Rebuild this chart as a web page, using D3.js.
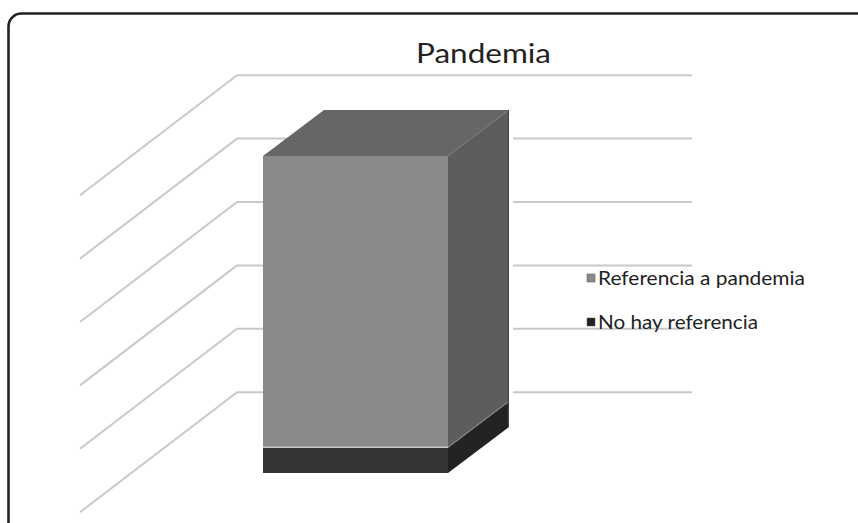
<!DOCTYPE html>
<html><head><meta charset="utf-8">
<script src="https://cdn.jsdelivr.net/npm/d3@7"></script>
<style>html,body{margin:0;padding:0;background:#fff;}svg{display:block;}</style>
</head><body>
<svg id="c" width="858" height="523"></svg>
<script>
// ---- data ----
const categories = ["Pandemia"];
const seriesNames = ["Referencia a pandemia", "No hay referencia"];
const referenciaValues = [46];
const noHayValues = [4];
const gridTicks = [10, 20, 30, 40, 50, 60];
const axisMax = 60;

(function () {
const svg = d3.select("#c");

// frame
svg.append("rect").attr("x", 8.5).attr("y", 13.5).attr("width", 880).attr("height", 530)
  .attr("rx", 13).attr("fill", "#fff").attr("stroke", "#222").attr("stroke-width", 2.6);

// title
svg.append("text").attr("x", 416).attr("y", 63)
  .attr("font-family", "Lato, 'Open Sans', sans-serif").attr("font-size", 27)
  .attr("textLength", 135).attr("lengthAdjust", "spacingAndGlyphs")
  .attr("fill", "#222").text(categories[0]);

// scales
const yWall = d3.scaleLinear().domain([0, axisMax]).range([455.6, 75.2]);
const yBar = d3.scaleLinear().domain([0, axisMax]).range([473, 473 - 6 * 63.4]);
const x = d3.scaleBand().domain(categories).range([263, 448]).padding(0);
const depth = {dx: 61, dy: -46};
const wallX0 = 237, wallX1 = 692, sideDx = -157, sideDy = 120;

const grid = svg.append("g").attr("stroke", "#c9c9c9").attr("stroke-width", 2).attr("fill", "none");
gridTicks.forEach(t => {
  const yy = yWall(t);
  grid.append("line").attr("x1", wallX0).attr("x2", wallX1).attr("y1", yy).attr("y2", yy);
  grid.append("line").attr("x1", wallX0).attr("y1", yy).attr("x2", wallX0 + sideDx).attr("y2", yy + sideDy);
});

// stacked 3D bar
const table = categories.map((c, i) => ({cat: c, ref: referenciaValues[i], nohay: noHayValues[i]}));
const stack = d3.stack().keys(["nohay", "ref"])(table);
const colors = {
  nohay: {front: "#343434", side: "#232323", top: "#2a2a2a", legend: "#222"},
  ref: {front: "#8a8a8a", side: "#5d5d5d", top: "#666666", legend: "#8a8a8a"}
};
const pts = a => a.map(p => p.join(",")).join(" ");
const bars = svg.append("g");
// white gap behind the bar's right side (as in reference)
const gx1 = x(categories[0]) + x.bandwidth();
stack.forEach(layer => {
  const key = layer.key;
  const isTop = key === stack[stack.length - 1].key;
  layer.forEach(d => {
    const x0 = x(d.data.cat), x1 = x0 + x.bandwidth();
    const y0 = yBar(d[0]), y1 = yBar(d[1]);
    const c = colors[key];
    bars.append("polygon").attr("points", pts([[x1, y1], [x1 + depth.dx, y1 + depth.dy], [x1 + depth.dx, y0 + depth.dy], [x1, y0]]))
      .attr("fill", c.side).attr("stroke", "#fff").attr("stroke-width", 0);
    bars.append("rect").attr("x", x0).attr("y", y1).attr("width", x1 - x0).attr("height", y0 - y1).attr("fill", c.front);
    if (isTop) {
      bars.append("polygon").attr("points", pts([[x0, y1], [x0 + depth.dx, y1 + depth.dy], [x1 + depth.dx, y1 + depth.dy], [x1, y1]]))
        .attr("fill", c.top);
    }
  });
});
// subtle edges
const topSeg = stack[stack.length - 1][0], botSeg = stack[0][0];
const bx0 = x(categories[0]), bx1 = bx0 + x.bandwidth();
bars.append("line").attr("x1", bx0).attr("x2", bx1).attr("y1", yBar(botSeg[1]) - 0.5).attr("y2", yBar(botSeg[1]) - 0.5)
  .attr("stroke", "#c8c8c8").attr("stroke-width", 1.5);
bars.append("line").attr("x1", bx1).attr("x2", bx1 + depth.dx).attr("y1", yBar(botSeg[1]) - 0.5).attr("y2", yBar(botSeg[1]) + depth.dy - 0.5)
  .attr("stroke", "#8a8a8a").attr("stroke-width", 1);
bars.append("line").attr("x1", bx1 + depth.dx - 0.5).attr("x2", bx1 + depth.dx - 0.5)
  .attr("y1", yBar(topSeg[1]) + depth.dy).attr("y2", yBar(0) + depth.dy).attr("stroke", "#444").attr("stroke-width", 1.5);
bars.append("line").attr("x1", bx1 + depth.dx + 2).attr("x2", bx1 + depth.dx + 2)
  .attr("y1", yBar(topSeg[1]) + depth.dy).attr("y2", yBar(0) + depth.dy).attr("stroke", "#fff").attr("stroke-width", 4);

// legend
const legend = svg.append("g").attr("font-family", "Lato, 'Open Sans', sans-serif").attr("font-size", 19).attr("fill", "#222");
const legendItems = [{name: seriesNames[0], key: "ref", w: 207}, {name: seriesNames[1], key: "nohay", w: 160}];
legendItems.forEach((it, i) => {
  const ly = 278 + i * 44;
  legend.append("rect").attr("x", 587).attr("y", ly - 4).attr("width", 8).attr("height", 8)
    .attr("fill", colors[it.key].legend).attr("stroke", "#555").attr("stroke-width", 0.5);
  legend.append("text").attr("x", 598).attr("y", ly + 7)
    .attr("textLength", it.w).attr("lengthAdjust", "spacingAndGlyphs").text(it.name);
});
})();
</script>
</body></html>
